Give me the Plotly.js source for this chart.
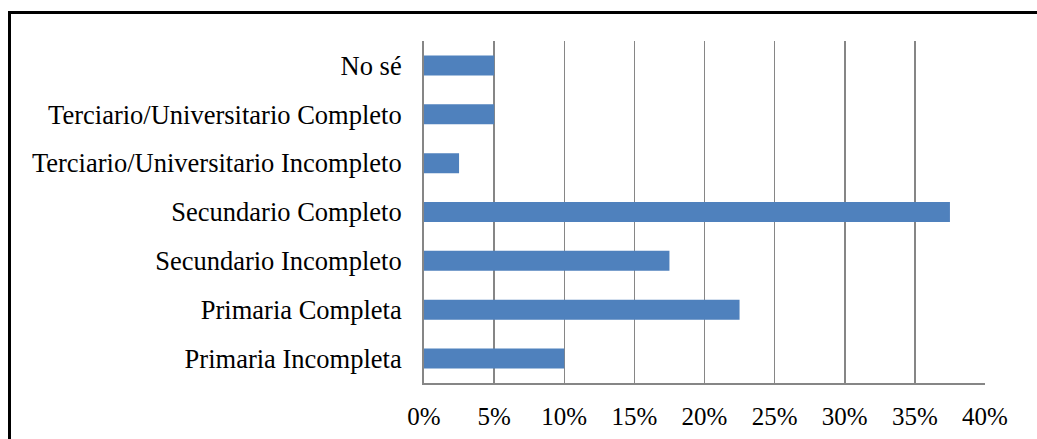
<!DOCTYPE html>
<html>
<head>
<meta charset="utf-8">
<script src="https://cdn.plot.ly/plotly-3.0.1.min.js"></script>
<style>
html,body{margin:0;padding:0;background:#fff;overflow:hidden;}
#chart{width:1037px;height:439px;position:absolute;left:0;top:0;}
#frame{position:absolute;left:8px;top:11px;width:1100px;height:500px;border-left:3px solid #000;border-top:3px solid #000;pointer-events:none;}
</style>
</head>
<body>
<div id="chart"></div>
<div id="frame"></div>
<script>
const categories = ["Primaria Incompleta","Primaria Completa","Secundario Incompleto","Secundario Completo","Terciario/Universitario Incompleto","Terciario/Universitario Completo","No sé"];
const values = [0.10,0.225,0.175,0.375,0.025,0.05,0.05];
const tickVals = [0,0.05,0.10,0.15,0.20,0.25,0.30,0.35,0.40];
const tickLabels = ["0%","5%","10%","15%","20%","25%","30%","35%","40%"];

Plotly.newPlot('chart',[{
  type:'bar',
  orientation:'h',
  y:categories,
  x:values,
  marker:{color:'#4F81BD'},
  hoverinfo:'none'
}],{
  width:1037,height:439,
  margin:{l:424,r:52,t:41,b:56},
  paper_bgcolor:'#fff',plot_bgcolor:'#fff',
  bargap:0.59,
  showlegend:false,
  font:{family:'"Liberation Serif","Times New Roman",serif',color:'#000',size:26},
  xaxis:{range:[0,0.40],tickvals:tickVals,ticktext:tickLabels,showgrid:true,gridcolor:'#868686',gridwidth:1.5,
    zeroline:false,showline:true,linecolor:'#868686',linewidth:1.5,ticks:'',tickfont:{size:25},ticklabelstandoff:10},
  yaxis:{type:'category',categoryorder:'array',categoryarray:categories,showline:true,linecolor:'#868686',linewidth:2,
    showgrid:false,ticks:'',ticklabelstandoff:15,tickfont:{size:26.5},zeroline:false}
},{displayModeBar:false,staticPlot:true});
</script>
</body>
</html>
